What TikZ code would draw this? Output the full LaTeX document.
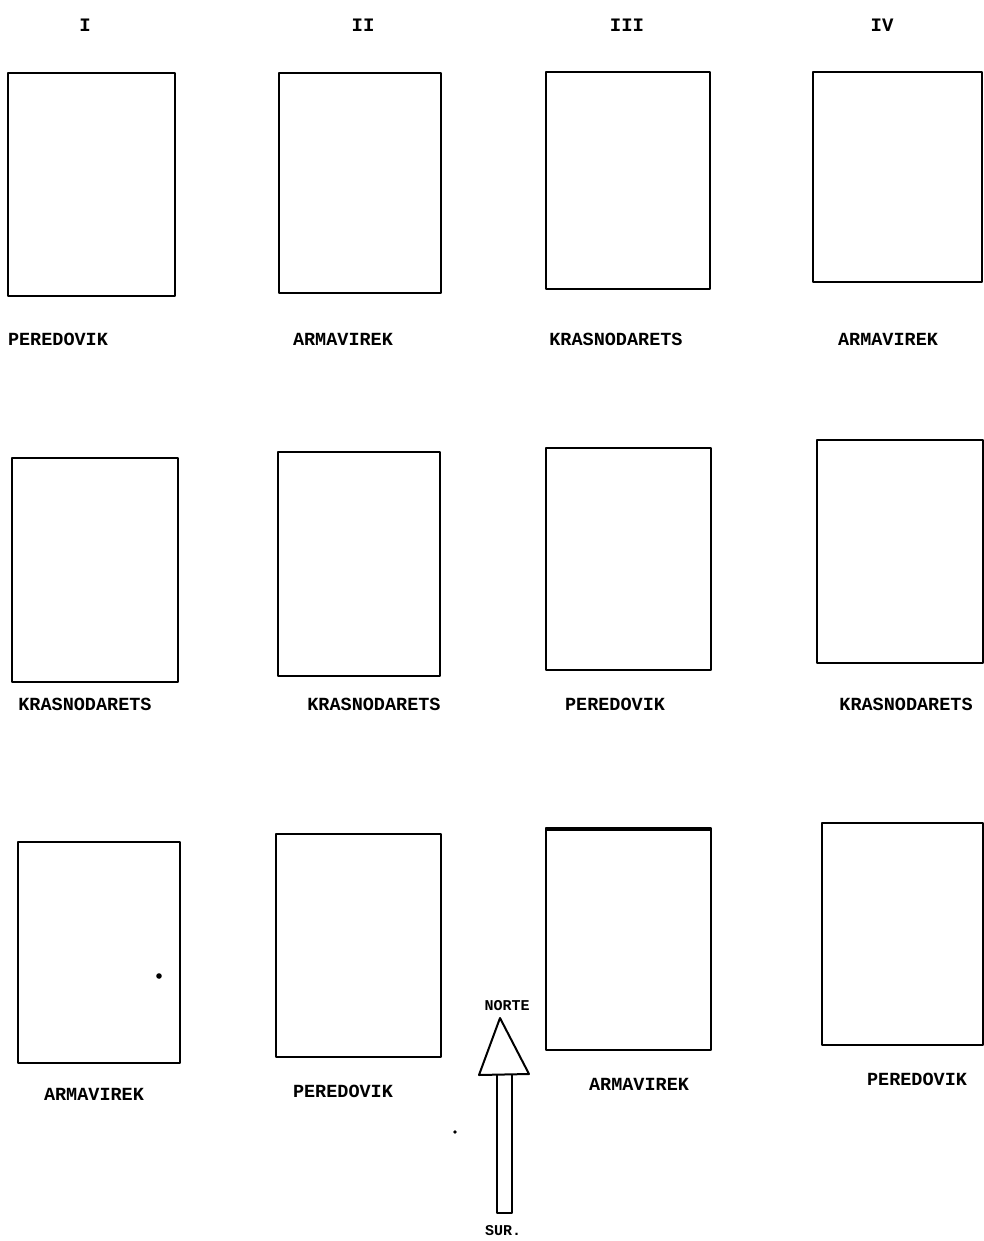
\documentclass[tikz,border=0pt]{standalone}
\usepackage{fontspec}
\setmonofont{Liberation Mono}
\begin{document}
\begin{tikzpicture}[x=1pt,y=-1pt,
  plot/.style={draw=black,line width=2pt,line join=round},
  lbl/.style={font=\ttfamily\bfseries\fontsize{18.5}{18.5}\selectfont,inner sep=0pt,anchor=center},
  hdr/.style={font=\ttfamily\bfseries\fontsize{19}{19}\selectfont,inner sep=0pt,anchor=center},
  arr/.style={draw=black,line width=2pt,line join=round,fill=white}]
\useasboundingbox (0,0) rectangle (984,1241);
% column headers
\node[hdr] (h1) at (85,25) {I};
\node[hdr] (h2) at (363,25) {II};
\node[hdr] (h3) at (627,25) {III};
\node[hdr] (h4) at (882,25) {IV};
% row 1
\draw[plot] (8,73) rectangle (175,296);
\draw[plot] (279,73) rectangle (441,293);
\draw[plot] (546,72) rectangle (710,289);
\draw[plot] (813,72) rectangle (982,282);
\node[lbl] (l11) at (58,339) {PEREDOVIK};
\node[lbl] (l12) at (343,339) {ARMAVIREK};
\node[lbl] (l13) at (616,339) {KRASNODARETS};
\node[lbl] (l14) at (888,339) {ARMAVIREK};
% row 2
\draw[plot] (12,458) rectangle (178,682);
\draw[plot] (278,452) rectangle (440,676);
\draw[plot] (546,448) rectangle (711,670);
\draw[plot] (817,440) rectangle (983,663);
\node[lbl] (l21) at (85,704) {KRASNODARETS};
\node[lbl] (l22) at (374,704) {KRASNODARETS};
\node[lbl] (l23) at (615,704) {PEREDOVIK};
\node[lbl] (l24) at (906,704) {KRASNODARETS};
% row 3
\draw[plot] (18,842) rectangle (180,1063);
\draw[plot] (276,834) rectangle (441,1057);
\draw[plot] (546,828) rectangle (711,1050);
\draw[black,line width=3.5pt] (546,829) -- (711,829);
\draw[plot] (822,823) rectangle (983,1045);
\node[lbl] (l31) at (94,1094) {ARMAVIREK};
\node[lbl] (l32) at (343,1091) {PEREDOVIK};
\node[lbl] (l33) at (639,1084) {ARMAVIREK};
\node[lbl] (l34) at (917,1079) {PEREDOVIK};
% stray dots
\fill (159,976) circle (2.8);
\fill (455,1132) circle (1.8);
% north arrow
\draw[arr] (497,1074) rectangle (512,1213);
\draw[arr] (500,1018) -- (529,1074) -- (479,1075) -- cycle;
\node[lbl,font=\ttfamily\bfseries\fontsize{15}{15}\selectfont] (n) at (507,1006) {NORTE};
\node[lbl,font=\ttfamily\bfseries\fontsize{15}{15}\selectfont] (s) at (503,1231) {SUR.};
\end{tikzpicture}
\end{document}
